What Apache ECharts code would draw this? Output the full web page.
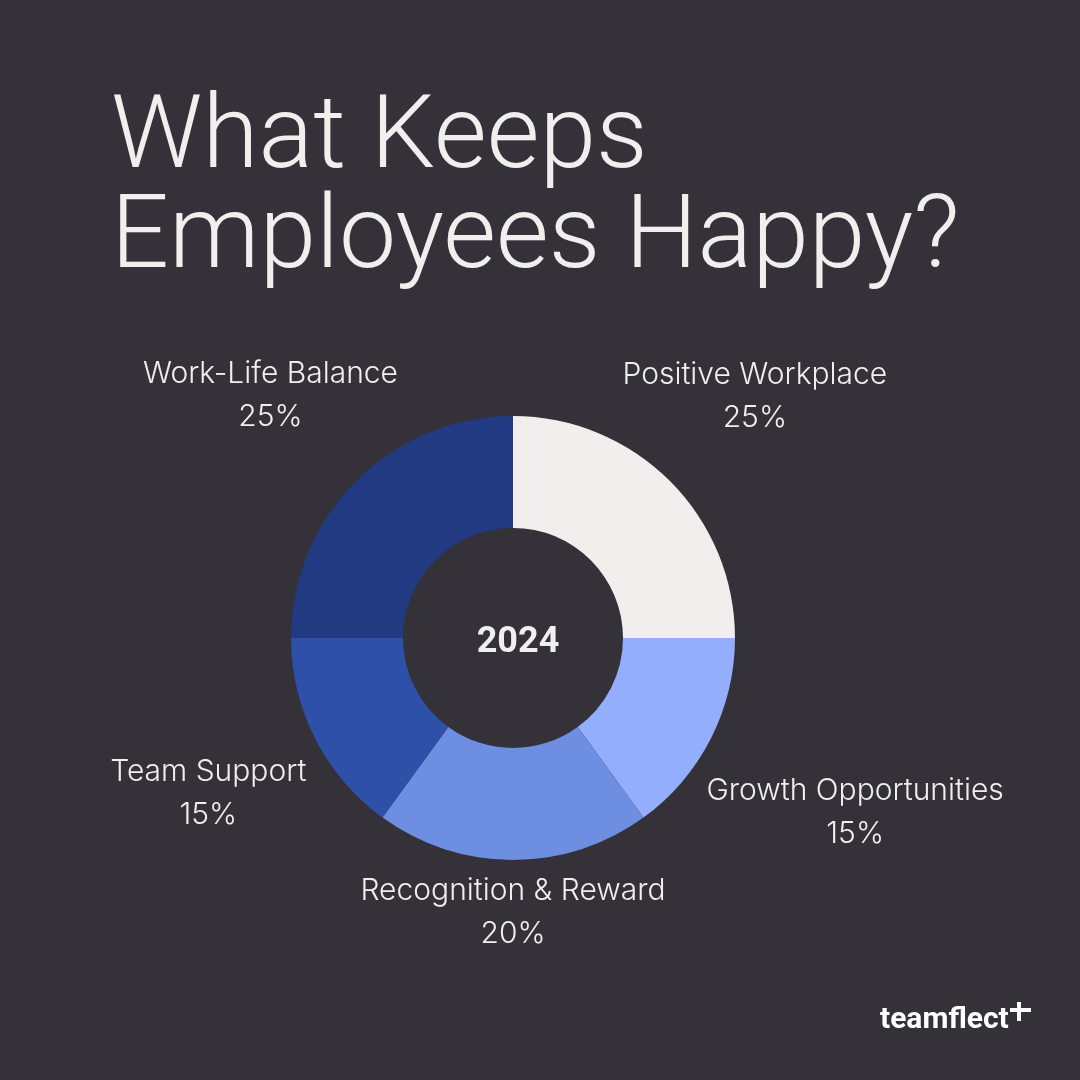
<!DOCTYPE html>
<html><head><meta charset="utf-8">
<script src="https://cdn.jsdelivr.net/npm/echarts@6/dist/echarts.min.js"></script>
<style>html,body{margin:0;padding:0;background:#343238;}#c{width:1080px;height:1080px;}</style>
</head><body><div id="c"></div>
<script>
const categories = ['Positive Workplace','Growth Opportunities','Recognition & Reward','Team Support','Work-Life Balance'];
const values = [25, 15, 20, 15, 25];
const colors = ['#f1eeee','#92aefc','#6e8ee2','#2f50a8','#213a82'];
const centerLabel = '2024';
const titleLines = ['What Keeps','Employees Happy?'];

const CX = 513, CY = 638;
const labelRadius = [342, 384, 274, 342, 343];
const total = values.reduce((a,b)=>a+b,0);
const midAngles = [];
let acc = 0;
values.forEach(v => { midAngles.push((acc + v/2)/total*2*Math.PI); acc += v; });

const chart = echarts.init(document.getElementById('c'));
chart.setOption({
  backgroundColor: '#343238',
  animation: false,
  title: [{
    text: titleLines.join('\n'),
    left: 106, top: 86,
    textStyle: { color:'#f1eeee', fontFamily:'Roboto', fontWeight:300, fontSize:102, lineHeight:100 }
  },{
    text: centerLabel, left: CX, top: CY, textAlign:'center', textVerticalAlign:'middle',
    textStyle:{ color:'#f1eeee', fontFamily:'Roboto', fontWeight:'bold', fontSize:36 }
  }],
  graphic: [
    { type:'text', left: 880, top: 1005, style:{ text:'teamflect', fill:'#ffffff', font:'bold 30px Roboto' } },
    { type:'rect', shape:{ x:1017, y:1002, width:4, height:19 }, style:{ fill:'#ffffff' } },
    { type:'rect', shape:{ x:1010, y:1008, width:21, height:4 }, style:{ fill:'#ffffff' } }
  ],
  series: [{
    type:'pie',
    center:[CX, CY],
    radius:[110, 222],
    startAngle:90,
    clockwise:true,
    itemStyle:{ borderWidth:0 },
    labelLine:{ show:false },
    label:{
      show:true, position:'outside',
      formatter: p => p.name + '\n' + p.value + '%',
      color:'#f1eeee', fontFamily:'Inter', fontWeight:300, fontSize:30, lineHeight:43, align:'center'
    },
    labelLayout: function(params){
      const i = params.dataIndex, a = midAngles[i], R = labelRadius[i];
      return { x: CX + R*Math.sin(a), y: CY - R*Math.cos(a), align:'center', verticalAlign:'middle' };
    },
    emphasis:{ disabled:true },
    data: categories.map((c,i)=>({ name:c, value:values[i], itemStyle:{ color:colors[i] } }))
  }]
});
</script></body></html>
